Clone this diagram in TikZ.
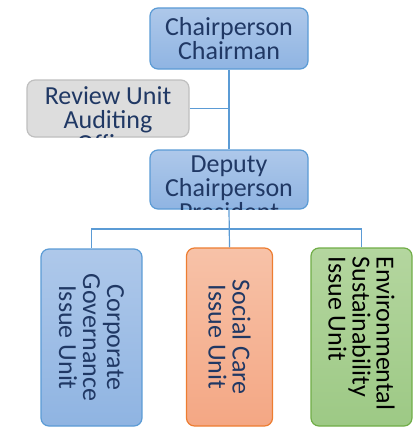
\documentclass[tikz,border=0pt]{standalone}
\usepackage{fontspec}
\setmainfont{Carlito}
\usetikzlibrary{calc}

\definecolor{lineblue}{HTML}{5B9BD5}
\definecolor{textblue}{HTML}{203864}
\definecolor{bluetop}{HTML}{AEC8EA}
\definecolor{bluebot}{HTML}{8FB4E2}
\definecolor{graybox}{HTML}{DDDDDD}
\definecolor{grayline}{HTML}{BFBFBF}
\definecolor{orangetop}{HTML}{F7C2A8}
\definecolor{orangebot}{HTML}{F4A784}
\definecolor{orangeline}{HTML}{ED7D31}
\definecolor{greentop}{HTML}{B4D69F}
\definecolor{greenbot}{HTML}{9DC985}
\definecolor{greenline}{HTML}{70AD47}

\tikzset{
  orgbox/.style={rectangle, rounded corners=8pt, line width=1.2pt, inner sep=0pt},
  bluebox/.style={orgbox, draw=lineblue, top color=bluetop, bottom color=bluebot},
  greybox/.style={orgbox, draw=grayline, fill=graybox},
  orangebox/.style={orgbox, draw=orangeline, top color=orangetop, bottom color=orangebot},
  greenbox/.style={orgbox, draw=greenline, top color=greentop, bottom color=greenbot},
  boxtext/.style={inner sep=0pt, align=center, text=textblue, font=\fontsize{26}{24}\selectfont},
  unittext/.style={boxtext, rotate=-90},
  link/.style={draw=lineblue, line width=1.2pt}
}

\begin{document}
\begin{tikzpicture}[x=1pt, y=-1pt]
\useasboundingbox (0,0) rectangle (418,428);

% top of the chart
\node[bluebox, minimum width=158pt, minimum height=61pt] (chair) at (229,38.5) {};
\node[boxtext] (chairtext) at (chair) {Chairperson\\Chairman};

\node[greybox, minimum width=162pt, minimum height=57pt] (rev) at (108,108.5) {};
\begin{scope}
\clip[rounded corners=8pt] (rev.south west) rectangle (rev.north east);
\node[boxtext, anchor=north] (revtext) at ($(rev.north)+(0,7)$) {Review Unit\\Auditing\\Office};
\end{scope}

\node[bluebox, minimum width=158pt, minimum height=59pt] (dep) at (229,179.5) {};
\begin{scope}
\clip[rounded corners=8pt] (dep.south west) rectangle (dep.north east);
\node[boxtext, anchor=north] (deptext) at ($(dep.north)+(0,6)$) {Deputy\\Chairperson\\President};
\end{scope}

% the three units
\node[bluebox, minimum width=101pt, minimum height=177pt] (corp) at (91.5,337.5) {};
\node[unittext] (corptext) at (corp) {Corporate\\Governance\\Issue Unit};

\node[orangebox, minimum width=86pt, minimum height=178pt] (soc) at (229.5,337) {};
\node[unittext] (soctext) at (soc) {Social Care\\Issue Unit};

\node[greenbox, minimum width=101pt, minimum height=178pt] (env) at (361.5,337) {};
\node[unittext, text=black, align=left, anchor=west] (envtext) at ($(env.north)+(0,9)$) {Environmental\\Sustainability\\Issue Unit};

% connectors
\coordinate (bus) at (229.5,229);
\draw[link] (chair.south) -- (dep.north);
\draw[link] (rev.east) -- (rev.east -| chair.south);
\draw[link] (dep.south) -- (soc.north);
\draw[link] (corp.north) |- (bus) -| (env.north);
\end{tikzpicture}
\end{document}
